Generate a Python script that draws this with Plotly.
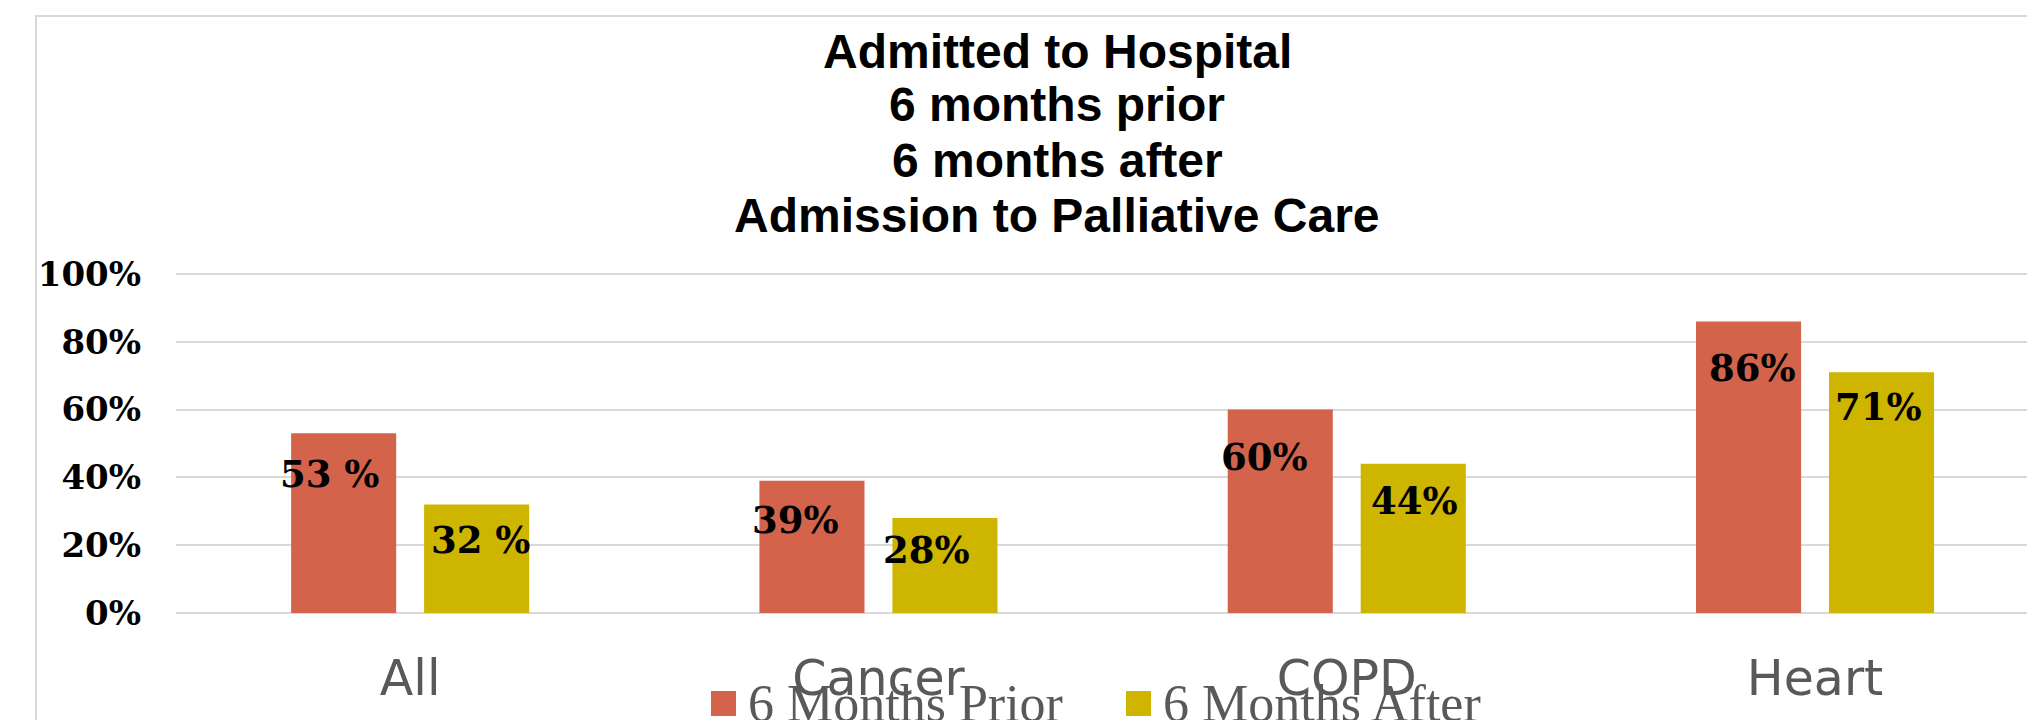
import plotly.graph_objects as go

# ---------------- data ----------------
categories = ["All", "Cancer", "COPD", "Heart"]
prior = [0.53, 0.39, 0.60, 0.86]
after = [0.32, 0.28, 0.44, 0.71]
prior_labels = ["53 %", "39%", "60%", "86%"]
after_labels = ["32 %", "28%", "44%", "71%"]
series_names = ["6 Months Prior", "6 Months After"]
title_lines = ["Admitted to Hospital", "6 months prior", "6 months after",
               "Admission to Palliative Care"]
y_ticks = [0, 0.2, 0.4, 0.6, 0.8, 1.0]

# ---------------- style ----------------
OFF = 8                      # default page margin of the html body
W, H = 2035 - OFF, 720 - OFF
ZERO_Y = 613 - OFF           # y pixel of the 0% line (figure coords)
PX_PER_UNIT = 339            # pixels for 0..100%
Y_TOP = 1.0206               # small headroom so the 100% gridline is drawn
M_L = 176 - OFF
M_R = 0
M_B = H - ZERO_Y
M_T = int(round(ZERO_Y - PX_PER_UNIT * Y_TOP))
PLOT_W = W - M_L - M_R
PLOT_H = H - M_T - M_B
BAND = 468.3                 # px per category

C_PRIOR = "#D3644B"
C_AFTER = "#CEB500"
GRID = "#D9D9D9"
AX_TXT = "#595959"

# label offsets in px (x relative to category center, y relative to bar top)
prior_offsets = [(-80, -41), (-83, -39), (-82, -47), (-63, -47)]
after_offsets = [(71, -35), (48, -32), (68, -37), (63, -35)]

# title line centres (page px)
title_centers_px = [51, 105, 160, 215]
title_center_x_px = 1057

# legend swatch boxes (page px): x0, x1, y0, y1 – enlarged swatches under the legend symbols
swatch_boxes = [(711, 736, 691, 716), (1126, 1151, 691, 716)]


def py_to_paper(py_page):
    return (ZERO_Y - (py_page - OFF)) / PLOT_H


def px_to_paper(px_page):
    return ((px_page - OFF) - M_L) / PLOT_W


fig = go.Figure()
fig.add_trace(go.Bar(x=categories, y=prior, name=series_names[0],
                     marker=dict(color=C_PRIOR, line=dict(width=0))))
fig.add_trace(go.Bar(x=categories, y=after, name=series_names[1],
                     marker=dict(color=C_AFTER, line=dict(width=0))))

lab_font = dict(family="DejaVu Serif", size=37, color="#000000", weight="bold")
annotations = []
for cat, v, lab, (dx, dy) in zip(categories, prior, prior_labels, prior_offsets):
    annotations.append(dict(x=cat, y=v, xref="x", yref="y", text=lab, showarrow=False,
                            xshift=dx, yshift=dy, xanchor="center", yanchor="middle",
                            font=lab_font))
for cat, v, lab, (dx, dy) in zip(categories, after, after_labels, after_offsets):
    annotations.append(dict(x=cat, y=v, xref="x", yref="y", text=lab, showarrow=False,
                            xshift=dx, yshift=dy, xanchor="center", yanchor="middle",
                            font=lab_font))
for line, cy in zip(title_lines, title_centers_px):
    annotations.append(dict(x=px_to_paper(title_center_x_px), y=py_to_paper(cy),
                            xref="paper", yref="paper", text=line, showarrow=False,
                            xanchor="center", yanchor="middle",
                            font=dict(family="Liberation Sans", size=48, color="#000000",
                                      weight="bold")))

# chart frame (light gray border of the chart area)
shapes = [dict(type="rect", xref="paper", yref="paper",
               x0=px_to_paper(36), x1=px_to_paper(2035 + 60),
               y0=py_to_paper(720 + 60), y1=py_to_paper(16),
               line=dict(color="#D9D9D9", width=2), fillcolor="rgba(0,0,0,0)",
               layer="below")]
for (x0, x1, y0, y1), col in zip(swatch_boxes, [C_PRIOR, C_AFTER]):
    shapes.append(dict(type="rect", xref="paper", yref="paper",
                       x0=px_to_paper(x0), x1=px_to_paper(x1),
                       y0=py_to_paper(y1), y1=py_to_paper(y0),
                       line=dict(width=0), fillcolor=col, layer="above"))

fig.update_layout(
    width=W, height=H,
    margin=dict(l=M_L, r=M_R, t=M_T, b=M_B, autoexpand=False),
    paper_bgcolor="white", plot_bgcolor="white",
    barmode="group", bargap=0.432, bargroupgap=0.21,
    showlegend=True,
    legend=dict(orientation="h", x=px_to_paper(708), xanchor="left",
                y=py_to_paper(701), yanchor="middle",
                font=dict(family="Liberation Serif", size=52, color=AX_TXT),
                bgcolor="rgba(0,0,0,0)", entrywidth=370, entrywidthmode="pixels",
                itemclick=False),
    annotations=annotations,
    shapes=shapes,
    xaxis=dict(type="category", range=[-0.5, -0.5 + PLOT_W / BAND],
               showgrid=False, showline=False, zeroline=False, ticks="",
               ticklabelstandoff=32,
               tickfont=dict(family="DejaVu Sans", size=49, color=AX_TXT)),
    yaxis=dict(range=[0, Y_TOP], tickvals=y_ticks, tickformat=".0%",
               showgrid=True, gridcolor=GRID, gridwidth=2,
               zeroline=True, zerolinecolor=GRID, zerolinewidth=2,
               showline=False, ticks="", ticklabelstandoff=34,
               tickfont=dict(family="DejaVu Serif", size=34, color="#000000",
                             weight="bold")),
)

fig.write_html("out.html")
